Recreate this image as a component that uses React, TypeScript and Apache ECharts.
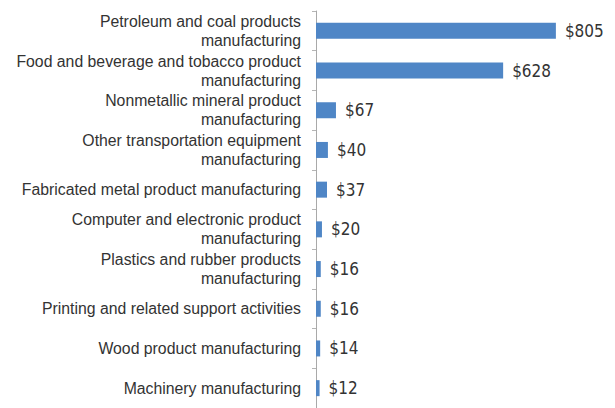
import React, { useEffect, useRef } from "react";
import * as echarts from "echarts";

const categories: string[] = [
  "Petroleum and coal products\nmanufacturing",
  "Food and beverage and tobacco product\nmanufacturing",
  "Nonmetallic mineral product\nmanufacturing",
  "Other transportation equipment\nmanufacturing",
  "Fabricated metal product manufacturing",
  "Computer and electronic product\nmanufacturing",
  "Plastics and rubber products\nmanufacturing",
  "Printing and related support activities",
  "Wood product manufacturing",
  "Machinery manufacturing",
];

const values: number[] = [805, 628, 67, 40, 37, 20, 16, 16, 14, 12];

export default function App() {
  const ref = useRef<HTMLDivElement>(null);
  useEffect(() => {
    if (!ref.current) return;
    const chart = echarts.init(ref.current, undefined, { renderer: "svg" });
    chart.setOption({
      animation: false,
      backgroundColor: "#ffffff",
      grid: { left: 316, top: 11, width: 298, height: 403 },
      xAxis: {
        type: "value",
        min: 0,
        max: 1000,
        show: false,
      },
      yAxis: {
        type: "category",
        inverse: true,
        data: categories,
        axisLine: { show: true, lineStyle: { color: "#a9a9a9", width: 1 } },
        axisTick: { show: true, length: 4, lineStyle: { color: "#b5b5b5" } },
        axisLabel: {
          margin: 15,
          fontFamily: "Liberation Sans, Arial, sans-serif",
          fontSize: 15.8,
          color: "#333333",
          lineHeight: 19,
          align: "right",
        },
        splitLine: { show: false },
      },
      series: [
        {
          type: "bar",
          data: values,
          barWidth: 16,
          itemStyle: { color: "#4F86C6" },
          label: {
            show: true,
            position: "right",
            distance: 9,
            formatter: (p: any) => "$" + p.value,
            fontFamily: "Liberation Sans Narrow, DejaVu Sans Condensed, sans-serif",
            fontSize: 17,
            color: "#333333",
          },
        },
      ],
    });
    return () => chart.dispose();
  }, []);
  return <div ref={ref} style={{ width: 615, height: 408, position: "absolute", left: 0, top: 0 }} />;
}
